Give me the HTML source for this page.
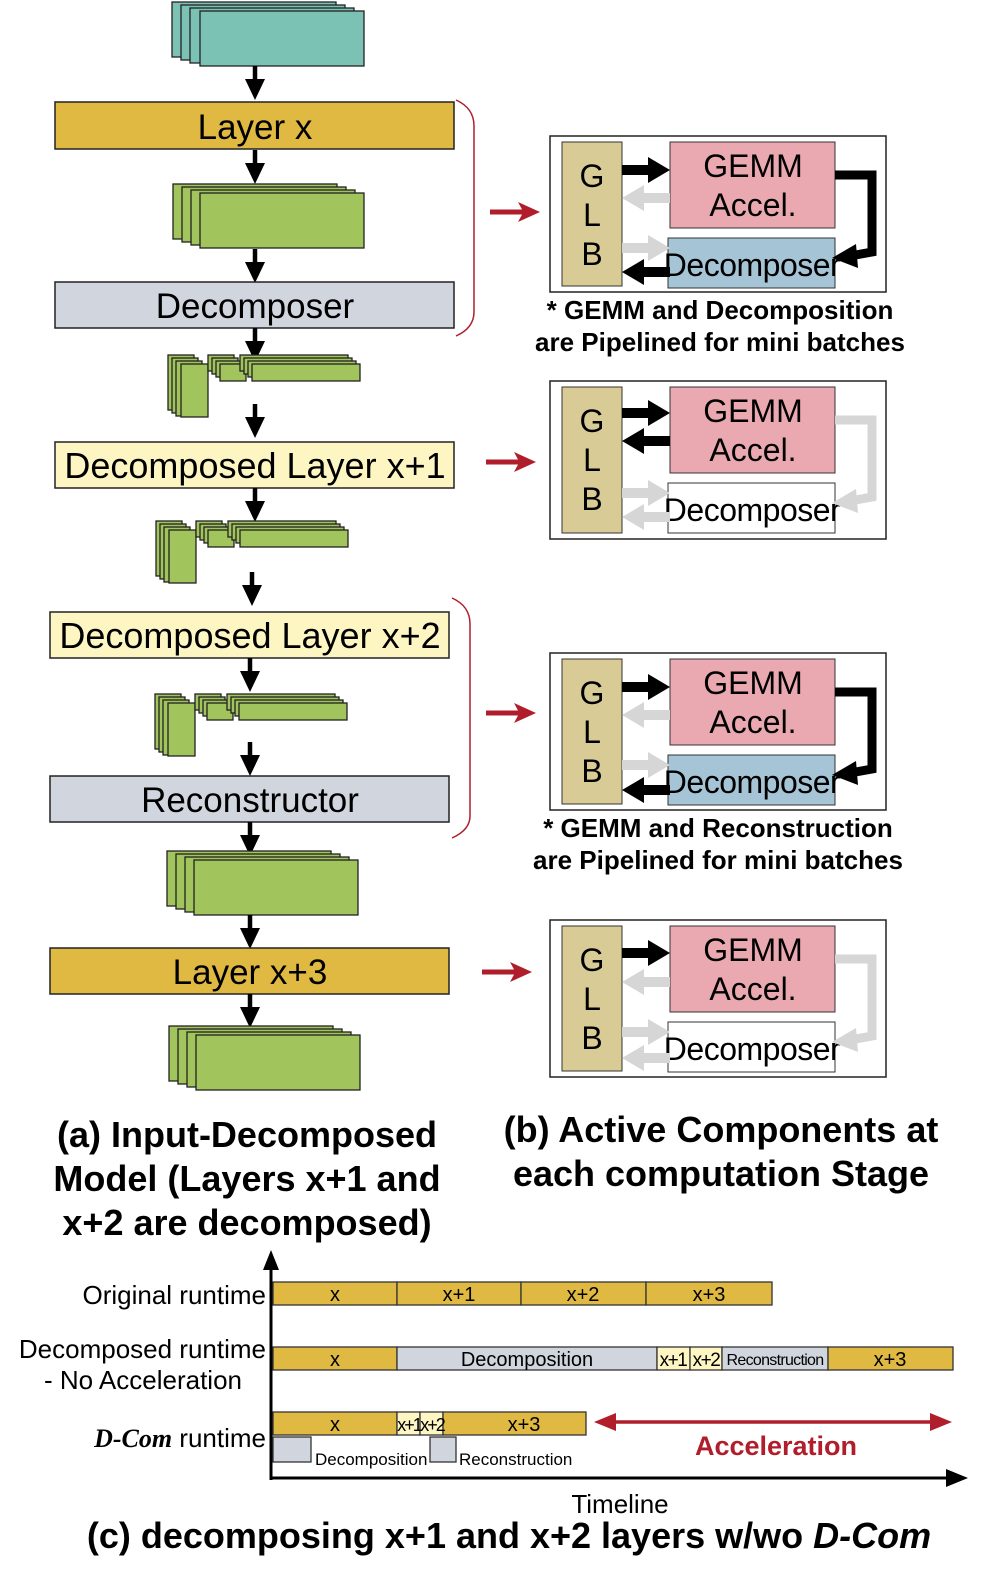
<!DOCTYPE html>
<html><head><meta charset="utf-8"><style>
html,body{margin:0;padding:0;background:#fff}
svg{display:block}
text{font-family:"Liberation Sans",sans-serif}
</style></head><body>
<svg width="997" height="1584" viewBox="0 0 997 1584" xmlns="http://www.w3.org/2000/svg">
<defs>
<g id="dn"><line x1="0" y1="0" x2="0" y2="18" stroke="#000" stroke-width="4.5"/><polygon points="-10,13 10,13 0,34" fill="#000"/></g>
<g id="gs" stroke="#222" stroke-width="1.3" fill="#a2c45c">
<rect x="0" y="0" width="164" height="55"/><rect x="9" y="3" width="164" height="55"/><rect x="18" y="6" width="164" height="55"/><rect x="27" y="9" width="164" height="55"/>
</g>
<g id="ds" stroke="#222" stroke-width="1.3" fill="#a2c45c">
<rect x="0" y="0" width="26" height="55"/><rect x="4" y="3" width="26" height="55"/><rect x="8" y="6" width="26" height="55"/><rect x="13" y="9" width="27" height="53"/>
<rect x="40" y="0" width="26" height="16"/><rect x="44" y="3" width="26" height="16"/><rect x="48" y="6" width="26" height="16"/><rect x="52" y="9" width="26" height="17"/>
<rect x="72" y="0" width="108" height="16"/><rect x="76" y="3" width="108" height="16"/><rect x="80" y="6" width="108" height="16"/><rect x="84" y="9" width="108" height="17"/>
</g>
<g id="rA"><polygon points="0,-5 26,-5 26,-13 48,0 26,13 26,5 0,5"/></g>
<g id="lA"><polygon points="48,-5 22,-5 22,-13 0,0 22,13 22,5 48,5"/></g>
<polygon id="red" points="0,-2.5 32,-2.5 28,-10 50,0 28,10 32,2.5 0,2.5" fill="#b01e2c"/>
</defs>

<!-- LEFT COLUMN -->
<g stroke="#222" stroke-width="1.3" fill="#7bc1b4">
<rect x="172" y="2" width="164" height="55"/><rect x="181" y="5" width="164" height="55"/><rect x="190" y="8" width="164" height="55"/><rect x="200" y="11" width="164" height="55"/>
</g>
<use href="#dn" x="255" y="66"/>
<rect x="55" y="102" width="399" height="47" fill="#dfb941" stroke="#222" stroke-width="1.5"/>
<text x="255" y="139" font-size="35" text-anchor="middle">Layer x</text>
<use href="#dn" x="255" y="150"/>
<use href="#gs" x="173" y="184"/>
<use href="#dn" x="255" y="249"/>
<rect x="55" y="282" width="399" height="46" fill="#d0d5de" stroke="#222" stroke-width="1.5"/>
<text x="255" y="318" font-size="35" text-anchor="middle">Decomposer</text>
<use href="#dn" x="255" y="328"/>
<path d="M456,100 Q474,108 474,126 L474,312 Q474,328 456,336" fill="none" stroke="#b01e2c" stroke-width="1.5"/>
<use href="#ds" x="168" y="355"/>
<use href="#dn" x="255" y="404"/>
<rect x="55" y="442" width="399" height="46" fill="#fdf6c3" stroke="#222" stroke-width="1.5"/>
<text x="255" y="478" font-size="36" text-anchor="middle">Decomposed Layer x+1</text>
<use href="#dn" x="255" y="488"/>
<use href="#ds" x="156" y="521"/>
<use href="#dn" x="252" y="572"/>
<rect x="50" y="612" width="399" height="46" fill="#fdf6c3" stroke="#222" stroke-width="1.5"/>
<text x="250" y="648" font-size="36" text-anchor="middle">Decomposed Layer x+2</text>
<use href="#dn" x="250" y="658"/>
<use href="#ds" x="155" y="694"/>
<use href="#dn" x="250" y="742"/>
<rect x="50" y="776" width="399" height="46" fill="#d0d5de" stroke="#222" stroke-width="1.5"/>
<text x="250" y="812" font-size="35" text-anchor="middle">Reconstructor</text>
<use href="#dn" x="250" y="822"/>
<path d="M452,598 Q470,606 470,624 L470,816 Q470,830 452,838" fill="none" stroke="#b01e2c" stroke-width="1.5"/>
<use href="#gs" x="167" y="851"/>
<use href="#dn" x="250" y="915"/>
<rect x="50" y="948" width="399" height="46" fill="#dfb941" stroke="#222" stroke-width="1.5"/>
<text x="250" y="984" font-size="35" text-anchor="middle">Layer x+3</text>
<use href="#dn" x="250" y="994"/>
<use href="#gs" x="169" y="1026"/>

<g font-size="36" font-weight="bold" text-anchor="middle">
<text x="247" y="1147">(a) Input-Decomposed</text>
<text x="247" y="1191">Model (Layers x+1 and</text>
<text x="247" y="1235">x+2 are decomposed)</text>
<text x="721" y="1142">(b) Active Components at</text>
<text x="721" y="1186">each computation Stage</text>
</g>

<!-- red arrows -->
<use href="#red" x="490" y="212"/>
<use href="#red" x="486" y="462"/>
<use href="#red" x="486" y="713"/>
<use href="#red" x="482" y="972"/>

<!-- Panel 1 -->
<g>
<rect x="550" y="136" width="336" height="156" fill="#fff" stroke="#222" stroke-width="1.5"/>
<rect x="562" y="142" width="60" height="144" fill="#d8cb95" stroke="#333"/>
<rect x="670" y="142" width="165" height="86" fill="#eaa9b0" stroke="#333"/>
<rect x="668" y="238" width="167" height="50" fill="#a5c4d6" stroke="#333"/>
<g font-size="32" text-anchor="middle"><text x="592" y="187">G</text><text x="592" y="226">L</text><text x="592" y="265">B</text></g>
<text x="753" y="177" font-size="32" text-anchor="middle">GEMM</text>
<text x="753" y="216" font-size="32" text-anchor="middle">Accel.</text>
<text x="752" y="276" font-size="32" text-anchor="middle" letter-spacing="-0.5">Decomposer</text>
<use href="#rA" x="622" y="170" fill="#000"/>
<use href="#lA" x="622" y="198" fill="#d6d6d6"/>
<use href="#rA" x="622" y="248" fill="#d6d6d6"/>
<use href="#lA" x="622" y="272" fill="#000"/>
<path d="M835,175 L872,175 L872,252 L850,256" fill="none" stroke="#000" stroke-width="9"/>
<polygon points="832,258 856,244 858,268" fill="#000"/>
</g>
<g font-size="26" font-weight="bold" text-anchor="middle">
<text x="720" y="319">* GEMM and Decomposition</text>
<text x="720" y="351">are Pipelined for mini batches</text>
</g>

<!-- Panel 2 -->
<g>
<rect x="550" y="381" width="336" height="158" fill="#fff" stroke="#222" stroke-width="1.5"/>
<rect x="562" y="387" width="60" height="146" fill="#d8cb95" stroke="#333"/>
<rect x="670" y="387" width="165" height="86" fill="#eaa9b0" stroke="#333"/>
<rect x="668" y="483" width="167" height="50" fill="#fff" stroke="#333"/>
<g font-size="32" text-anchor="middle"><text x="592" y="432">G</text><text x="592" y="471">L</text><text x="592" y="510">B</text></g>
<text x="753" y="422" font-size="32" text-anchor="middle">GEMM</text>
<text x="753" y="461" font-size="32" text-anchor="middle">Accel.</text>
<text x="752" y="521" font-size="32" text-anchor="middle" letter-spacing="-0.5">Decomposer</text>
<use href="#rA" x="622" y="413" fill="#000"/>
<use href="#lA" x="622" y="441" fill="#000"/>
<use href="#rA" x="622" y="493" fill="#d6d6d6"/>
<use href="#lA" x="622" y="517" fill="#d6d6d6"/>
<path d="M835,420 L872,420 L872,497 L850,501" fill="none" stroke="#d6d6d6" stroke-width="9"/>
<polygon points="832,503 856,489 858,513" fill="#d6d6d6"/>
</g>

<!-- Panel 3 -->
<g>
<rect x="550" y="653" width="336" height="157" fill="#fff" stroke="#222" stroke-width="1.5"/>
<rect x="562" y="659" width="60" height="145" fill="#d8cb95" stroke="#333"/>
<rect x="670" y="659" width="165" height="86" fill="#eaa9b0" stroke="#333"/>
<rect x="668" y="755" width="167" height="50" fill="#a5c4d6" stroke="#333"/>
<g font-size="32" text-anchor="middle"><text x="592" y="704">G</text><text x="592" y="743">L</text><text x="592" y="782">B</text></g>
<text x="753" y="694" font-size="32" text-anchor="middle">GEMM</text>
<text x="753" y="733" font-size="32" text-anchor="middle">Accel.</text>
<text x="752" y="793" font-size="32" text-anchor="middle" letter-spacing="-0.5">Decomposer</text>
<use href="#rA" x="622" y="687" fill="#000"/>
<use href="#lA" x="622" y="715" fill="#d6d6d6"/>
<use href="#rA" x="622" y="765" fill="#d6d6d6"/>
<use href="#lA" x="622" y="790" fill="#000"/>
<path d="M835,692 L872,692 L872,769 L850,773" fill="none" stroke="#000" stroke-width="9"/>
<polygon points="832,775 856,761 858,785" fill="#000"/>
</g>
<g font-size="26" font-weight="bold" text-anchor="middle">
<text x="718" y="837">* GEMM and Reconstruction</text>
<text x="718" y="869">are Pipelined for mini batches</text>
</g>

<!-- Panel 4 -->
<g>
<rect x="550" y="920" width="336" height="157" fill="#fff" stroke="#222" stroke-width="1.5"/>
<rect x="562" y="926" width="60" height="145" fill="#d8cb95" stroke="#333"/>
<rect x="670" y="926" width="165" height="86" fill="#eaa9b0" stroke="#333"/>
<rect x="668" y="1022" width="167" height="50" fill="#fff" stroke="#333"/>
<g font-size="32" text-anchor="middle"><text x="592" y="971">G</text><text x="592" y="1010">L</text><text x="592" y="1049">B</text></g>
<text x="753" y="961" font-size="32" text-anchor="middle">GEMM</text>
<text x="753" y="1000" font-size="32" text-anchor="middle">Accel.</text>
<text x="752" y="1060" font-size="32" text-anchor="middle" letter-spacing="-0.5">Decomposer</text>
<use href="#rA" x="622" y="953" fill="#000"/>
<use href="#lA" x="622" y="982" fill="#d6d6d6"/>
<use href="#rA" x="622" y="1032" fill="#d6d6d6"/>
<use href="#lA" x="622" y="1058" fill="#d6d6d6"/>
<path d="M835,959 L872,959 L872,1036 L850,1040" fill="none" stroke="#d6d6d6" stroke-width="9"/>
<polygon points="832,1042 856,1028 858,1052" fill="#d6d6d6"/>
</g>

<!-- TIMELINE -->
<line x1="271" y1="1480" x2="271" y2="1265" stroke="#000" stroke-width="3"/>
<polygon points="263,1270 279,1270 271,1250" fill="#000"/>
<line x1="271" y1="1478" x2="950" y2="1478" stroke="#000" stroke-width="3"/>
<polygon points="946,1469 968,1478 946,1487" fill="#000"/>
<g font-size="26" text-anchor="end">
<text x="266" y="1304">Original runtime</text>
<text x="266" y="1358">Decomposed runtime</text>
<text x="242" y="1389">- No Acceleration</text>
<text x="266" y="1447"><tspan font-family="Liberation Serif,serif" font-weight="bold" font-style="italic">D-Com</tspan> runtime</text>
</g>
<g stroke="#333" stroke-width="1.3">
<rect x="273" y="1282" width="124" height="23" fill="#dfb941"/>
<rect x="397" y="1282" width="124" height="23" fill="#dfb941"/>
<rect x="521" y="1282" width="125" height="23" fill="#dfb941"/>
<rect x="646" y="1282" width="126" height="23" fill="#dfb941"/>
<rect x="273" y="1347" width="124" height="23" fill="#dfb941"/>
<rect x="397" y="1347" width="260" height="23" fill="#d0d5de"/>
<rect x="657" y="1347" width="33" height="23" fill="#fdf6c3"/>
<rect x="690" y="1347" width="32" height="23" fill="#fdf6c3"/>
<rect x="722" y="1347" width="106" height="23" fill="#d0d5de"/>
<rect x="828" y="1347" width="125" height="23" fill="#dfb941"/>
<rect x="273" y="1412" width="124" height="23" fill="#dfb941"/>
<rect x="397" y="1412" width="23" height="23" fill="#fdf6c3"/>
<rect x="420" y="1412" width="23" height="23" fill="#fdf6c3"/>
<rect x="443" y="1412" width="143" height="23" fill="#dfb941"/>
<rect x="273" y="1437" width="38" height="25" fill="#d0d5de"/>
<rect x="430" y="1437" width="26" height="25" fill="#d0d5de"/>
</g>
<g font-size="20" text-anchor="middle">
<text x="335" y="1301">x</text><text x="459" y="1301">x+1</text><text x="583" y="1301">x+2</text><text x="709" y="1301">x+3</text>
<text x="335" y="1366">x</text><text x="527" y="1366">Decomposition</text>
<text x="673" y="1366" letter-spacing="-1.5" font-size="19">x+1</text><text x="706" y="1366" letter-spacing="-1.5" font-size="19">x+2</text>
<text x="775" y="1365" font-size="16" letter-spacing="-0.7">Reconstruction</text>
<text x="890" y="1366">x+3</text>
<text x="335" y="1431">x</text><text x="409" y="1431" letter-spacing="-2" font-size="18">x+1</text><text x="432" y="1431" letter-spacing="-2" font-size="18">x+2</text><text x="524" y="1431">x+3</text>
</g>
<g font-size="17"><text x="315" y="1465">Decomposition</text><text x="459" y="1465">Reconstruction</text></g>
<line x1="610" y1="1422" x2="935" y2="1422" stroke="#b01e2c" stroke-width="3.5"/>
<polygon points="594,1422 616,1413 616,1431" fill="#b01e2c"/>
<polygon points="952,1422 930,1413 930,1431" fill="#b01e2c"/>
<text x="776" y="1455" font-size="27" font-weight="bold" fill="#b01e2c" text-anchor="middle">Acceleration</text>
<text x="620" y="1513" font-size="26" text-anchor="middle">Timeline</text>
<text x="509" y="1548" font-size="36" font-weight="bold" text-anchor="middle">(c) decomposing x+1 and x+2 layers w/wo <tspan font-style="italic">D-Com</tspan></text>
</svg>
</body></html>
